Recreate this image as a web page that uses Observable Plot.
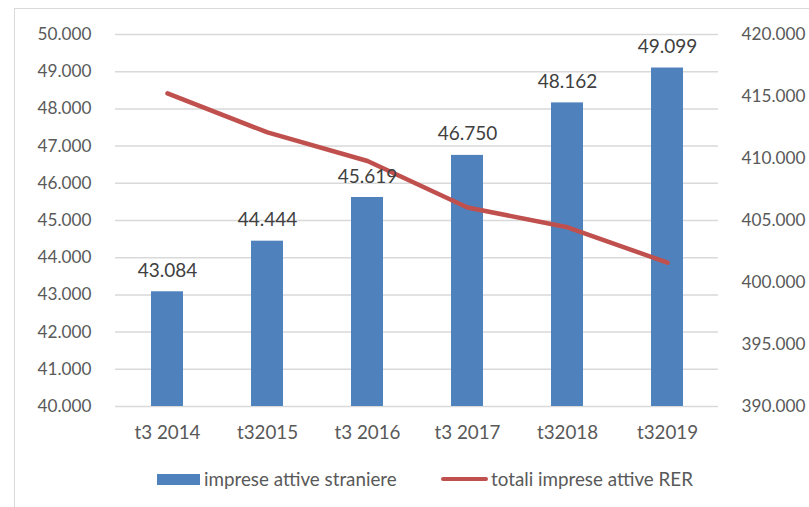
<!DOCTYPE html>
<html><head><meta charset="utf-8">
<script src="https://cdn.jsdelivr.net/npm/d3@7"></script>
<script src="https://cdn.jsdelivr.net/npm/@observablehq/plot@0.6"></script>
<style>
body{margin:0;background:#fff;}
#wrap{position:relative;width:809px;height:507px;overflow:hidden;font-family:Lato,sans-serif;}
#frame{position:absolute;left:14px;top:8px;width:820px;height:530px;border:1.5px solid #d9d9d9;box-sizing:border-box;pointer-events:none;}
#chart{position:absolute;left:0;top:0;}
#legend{position:absolute;left:0;top:455px;width:809px;height:52px;font-size:18.8px;color:#595959;}
#legend .sw{position:absolute;}
#legend .lb{position:absolute;top:12px;line-height:24px;}
</style>
</head><body>
<div id="wrap">
  <div id="chart"></div>
  <div id="legend">
    <div class="sw" style="left:157px;top:19px;width:43px;height:11px;background:#4f81bd"></div>
    <div class="lb" style="left:204px">imprese attive straniere</div>
    <div class="sw" style="left:441px;top:22px;width:47px;height:4px;border-radius:2px;background:#c0504d"></div>
    <div class="lb" style="left:491px">totali imprese attive RER</div>
  </div>
  <div id="frame"></div>
</div>
<script>
const categories = ["t3 2014", "t32015", "t3 2016", "t3 2017", "t32018", "t32019"];
const impreseStraniere = [43084, 44444, 45619, 46750, 48162, 49099];
const totaliRER = [415250, 412100, 409800, 406050, 404450, 401600];
const leftTicks = [40000, 41000, 42000, 43000, 44000, 45000, 46000, 47000, 48000, 49000, 50000];
const rightTicks = [390000, 395000, 400000, 405000, 410000, 415000, 420000];

const it = d3.formatLocale({decimal: ",", thousands: ".", grouping: [3], currency: ["", ""]});
const fmt = it.format(",d");
// map right axis (390.000–420.000) onto left axis (40.000–50.000)
const toLeft = v => 40000 + (v - 390000) / 3;
const fromLeft = v => 390000 + (v - 40000) * 3;

const bars = categories.map((c, i) => ({cat: c, value: impreseStraniere[i]}));
const line = categories.map((c, i) => ({cat: c, value: toLeft(totaliRER[i])}));

const plot = Plot.plot({
  width: 809,
  height: 455,
  marginLeft: 115,
  marginRight: 91,
  marginTop: 34,
  marginBottom: 49,
  style: {fontFamily: "Lato, sans-serif", fontSize: "17.2px", color: "#595959", background: "transparent"},
  x: {domain: categories, paddingInner: 0.68, paddingOuter: 0.34, label: null},
  y: {domain: [40000, 50000], label: null},
  marks: [
    Plot.ruleY(leftTicks, {stroke: "#d9d9d9", strokeWidth: 1.5}),
    Plot.barY(bars, {x: "cat", y1: 40000, y2: "value", fill: "#4f81bd"}),
    Plot.line(line, {x: "cat", y: "value", stroke: "#c0504d", strokeWidth: 4.5, strokeLinecap: "round", strokeLinejoin: "round"}),
    Plot.text(bars, {x: "cat", y: "value", text: d => fmt(d.value), dy: -21, fill: "#404040", fontSize: 19}),
    Plot.axisY(leftTicks, {anchor: "left", tickSize: 0, tickPadding: 24, tickFormat: fmt, label: null, fill: "#595959"}),
    Plot.axisY(rightTicks.map(toLeft), {anchor: "right", tickSize: 0, tickPadding: 23, tickFormat: d => fmt(Math.round(fromLeft(d))), label: null, fill: "#595959"}),
    Plot.axisX({tickSize: 0, tickPadding: 19, label: null, fill: "#595959", fontSize: 18.8})
  ]
});
document.getElementById("chart").appendChild(plot);
</script>
</body></html>
